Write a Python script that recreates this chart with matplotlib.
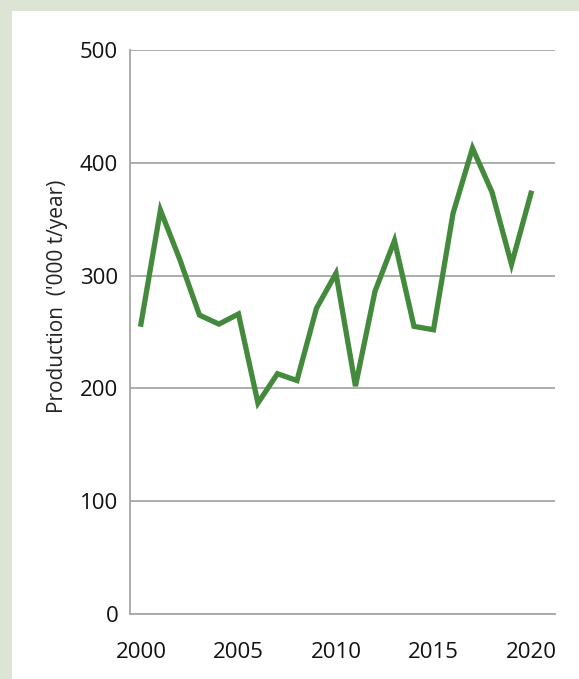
import matplotlib.pyplot as plt
from matplotlib.patches import Rectangle

plt.rcParams['font.family'] = ['Open Sans', 'DejaVu Sans']

years = list(range(2000, 2021))
production = [257, 358, 314, 265, 257, 266, 187, 213, 207, 271, 302,
              202, 286, 331, 255, 252, 355, 413, 374, 310, 373]
y_ticks = [0, 100, 200, 300, 400, 500]
x_ticks = [2000, 2005, 2010, 2015, 2020]

fig = plt.figure(figsize=(5.79, 6.79), dpi=100)
fig.patch.set_facecolor('#dde3d5')
# white card behind the chart
fig.patches.append(Rectangle((12 / 579, 0), 1, 1 - 11 / 679, transform=fig.transFigure,
                             facecolor='white', edgecolor='none', zorder=-10))

ax = fig.add_axes([130 / 579, 1 - 614 / 679, 425 / 579, 564 / 679])
ax.set_facecolor('none')

ax.plot(years, production, color='#448a3d', linewidth=3.8, solid_joinstyle='miter', zorder=3)

ax.set_ylim(0, 500)
ax.set_xlim(1999.44, 2021.23)
ax.set_yticks(y_ticks)
ax.set_xticks(x_ticks)
ax.grid(axis='y', color='#a6a6a6', linewidth=1.3)
ax.set_axisbelow(True)

for side in ['top', 'right']:
    ax.spines[side].set_visible(False)
ax.spines['left'].set_color('#a6a6a6')
ax.spines['bottom'].set_color('#a6a6a6')
ax.spines['left'].set_linewidth(1.3)
ax.spines['bottom'].set_linewidth(1.3)

ax.tick_params(axis='both', length=0, labelsize=16, colors='#111111')
ax.tick_params(axis='y', pad=8.5)
ax.tick_params(axis='x', pad=20)

ax.set_ylabel("Production  ('000 t/year)", fontsize=15, color='#222222')
ax.yaxis.set_label_coords(-0.146, 0.564)

fig.savefig('out.png', dpi=100, facecolor=fig.get_facecolor())
